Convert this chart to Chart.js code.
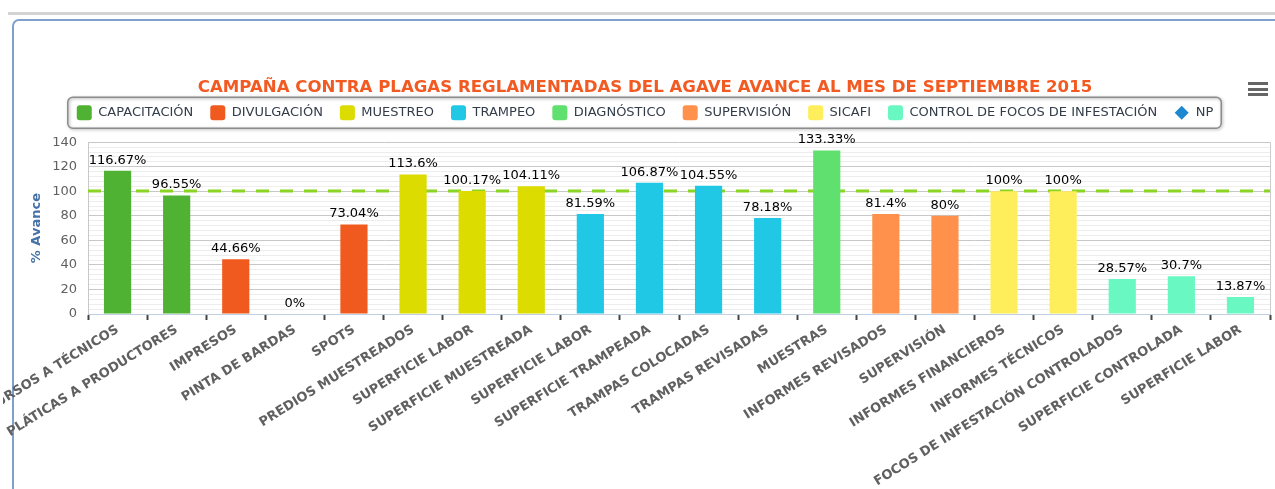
<!DOCTYPE html>
<html lang="es">
<head>
<meta charset="utf-8">
<title>Campaña contra plagas reglamentadas del agave</title>
<script src="https://cdn.jsdelivr.net/npm/chart.js@4.4.0/dist/chart.umd.min.js"></script>
<style>
  html, body { margin: 0; padding: 0; background: #fff; overflow: hidden; width: 1275px; height: 489px; }
  .topline { position: absolute; left: 8px; top: 12px; width: 1267px; height: 3px; background: #d3d3d3; }
  .panel { position: absolute; left: 12px; top: 19px; width: 1300px; height: 520px; border: 2px solid #809fca; border-radius: 7px; box-sizing: border-box; }
  .chart-wrap { position: absolute; left: 3px; top: 0; width: 1272px; height: 489px; }
  .menu { position: absolute; left: 1248px; top: 82px; width: 20px; }
  .menu span { display: block; height: 3px; background: #666; margin-bottom: 2.5px; }
</style>
</head>
<body>
<div class="topline"></div>
<div class="panel"></div>
<div class="chart-wrap"><canvas id="avance-chart"></canvas></div>
<div class="menu"><span></span><span></span><span></span></div>

<script>
// Chart data
const chartTitle = 'CAMPAÑA CONTRA PLAGAS REGLAMENTADAS DEL AGAVE AVANCE AL MES DE SEPTIEMBRE 2015';
const axisTitle = '% Avance';

const categories = [
  'CURSOS A TÉCNICOS', 'PLÁTICAS A PRODUCTORES', 'IMPRESOS', 'PINTA DE BARDAS', 'SPOTS',
  'PREDIOS MUESTREADOS', 'SUPERFICIE LABOR', 'SUPERFICIE MUESTREADA', 'SUPERFICIE LABOR',
  'SUPERFICIE TRAMPEADA', 'TRAMPAS COLOCADAS', 'TRAMPAS REVISADAS', 'MUESTRAS',
  'INFORMES REVISADOS', 'SUPERVISIÓN', 'INFORMES FINANCIEROS', 'INFORMES TÉCNICOS',
  'FOCOS DE INFESTACIÓN CONTROLADOS', 'SUPERFICIE CONTROLADA', 'SUPERFICIE LABOR'
];
const values = [
  116.67, 96.55, 44.66, 0, 73.04,
  113.6, 100.17, 104.11, 81.59,
  106.87, 104.55, 78.18, 133.33,
  81.4, 80, 100, 100,
  28.57, 30.7, 13.87
];
// which series (index into seriesNames) each category belongs to
const seriesOfCategory = [0, 0, 1, 1, 1, 2, 2, 2, 3, 3, 3, 3, 4, 5, 5, 6, 6, 7, 7, 7];
const seriesNames = [
  'CAPACITACIÓN', 'DIVULGACIÓN', 'MUESTREO', 'TRAMPEO',
  'DIAGNÓSTICO', 'SUPERVISIÓN', 'SICAFI', 'CONTROL DE FOCOS DE INFESTACIÓN'
];
const seriesColors = [
  '#4fb232', '#f05a1f', '#dcdc00', '#21c8e6',
  '#60e06e', '#ff914d', '#ffee5c', '#6af8c2'
];
const npName = 'NP';
const npColor = '#1b88cf';
const npValues = categories.map(() => null);
const goalValue = 100;
const yMin = 0;
const yMax = 140;
const yMajorStep = 20;
const yMinorStep = 4;

Chart.defaults.font.family = "'DejaVu Sans', Verdana, sans-serif";

// bar datasets, one per legend series
const datasets = seriesNames.map((name, s) => ({
  type: 'bar',
  label: name,
  data: values.map((v, i) => (seriesOfCategory[i] === s ? v : null)),
  backgroundColor: seriesColors[s],
  borderWidth: 0,
  grouped: false,
  barPercentage: 0.46,
  categoryPercentage: 1
}));
datasets.push({
  type: 'line',
  label: npName,
  data: npValues,
  borderColor: npColor,
  backgroundColor: npColor,
  showLine: false,
  pointStyle: 'rectRot'
});

// goal line at 100 and right border of the plot
const goalLine = {
  id: 'goalLine',
  beforeDatasetsDraw(chart) {
    const { ctx, chartArea: a, scales: { y } } = chart;
    const py = Math.round(y.getPixelForValue(goalValue));
    ctx.save();
    ctx.strokeStyle = '#cccccc';
    ctx.lineWidth = 1;
    ctx.beginPath();
    ctx.moveTo(a.right + 0.5, a.top);
    ctx.lineTo(a.right + 0.5, a.bottom);
    ctx.stroke();
    ctx.strokeStyle = '#8ad424';
    ctx.lineWidth = 3;
    ctx.setLineDash([13, 11]);
    ctx.beginPath();
    ctx.moveTo(a.left, py);
    ctx.lineTo(a.right, py);
    ctx.stroke();
    ctx.restore();
  }
};

// value labels above each bar
const valueLabels = {
  id: 'valueLabels',
  afterDatasetsDraw(chart) {
    const { ctx } = chart;
    ctx.save();
    ctx.font = "13px 'DejaVu Sans', Verdana, sans-serif";
    ctx.fillStyle = '#000';
    ctx.textAlign = 'center';
    ctx.textBaseline = 'bottom';
    chart.data.datasets.forEach((ds, di) => {
      if (ds.type !== 'bar') return;
      chart.getDatasetMeta(di).data.forEach((el, i) => {
        const v = ds.data[i];
        if (v === null || v === undefined) return;
        ctx.fillText(v + '%', el.x, el.y - 4);
      });
    });
    ctx.restore();
  }
};

// rounded frame around the legend, and the NP diamond
const legendFrame = {
  id: 'legendFrame',
  afterDraw(chart) {
    const lg = chart.legend;
    const boxes = lg.legendHitBoxes;
    if (!boxes || !boxes.length) return;
    const { ctx } = chart;
    const left = Math.min(...boxes.map(b => b.left)) - 9;
    const right = Math.max(...boxes.map(b => b.left + b.width)) + 8;
    const top = boxes[0].top - 8;
    const bottom = boxes[0].top + boxes[0].height + 8;
    ctx.save();
    ctx.shadowColor = 'rgba(0,0,0,0.35)';
    ctx.shadowBlur = 3;
    ctx.shadowOffsetX = 1;
    ctx.shadowOffsetY = 1;
    ctx.strokeStyle = '#8c8c8c';
    ctx.lineWidth = 1.5;
    ctx.beginPath();
    ctx.roundRect(left, top, right - left, bottom - top, 5);
    ctx.stroke();
    ctx.restore();

    const npIndex = lg.legendItems.findIndex(it => it.text === npName);
    if (npIndex >= 0) {
      const b = boxes[npIndex];
      const cx = b.left + 7.5;
      const cy = b.top + b.height / 2;
      const r = 7;
      ctx.save();
      ctx.fillStyle = npColor;
      ctx.beginPath();
      ctx.moveTo(cx, cy - r);
      ctx.lineTo(cx + r, cy);
      ctx.lineTo(cx, cy + r);
      ctx.lineTo(cx - r, cy);
      ctx.closePath();
      ctx.fill();
      ctx.restore();
    }
  }
};

const ctx = document.getElementById('avance-chart').getContext('2d');
new Chart(ctx, {
  type: 'bar',
  data: { labels: categories, datasets: datasets },
  options: {
    responsive: true,
    maintainAspectRatio: false,
    animation: false,
    layout: { padding: { top: 77, left: 17, right: 5, bottom: 0 } },
    plugins: {
      title: {
        display: true,
        text: chartTitle,
        color: '#f25a22',
        font: { size: 16.6, weight: 'bold' },
        padding: { top: 1, bottom: -9.7 }
      },
      subtitle: {
        display: true,
        text: ' ',
        weight: 500,
        font: { size: 10 },
        padding: { top: 0, bottom: 0 }
      },
      legend: {
        display: true,
        position: 'top',
        labels: {
          boxWidth: 15,
          boxHeight: 15,
          padding: 17,
          color: '#333d4a',
          font: { size: 13 },
          useBorderRadius: true,
          borderRadius: 3,
          generateLabels(chart) {
            const items = Chart.defaults.plugins.legend.labels.generateLabels(chart);
            items.forEach(it => {
              it.lineWidth = 0;
              if (it.text === npName) {
                it.fillStyle = 'rgba(0,0,0,0)';
                it.strokeStyle = 'rgba(0,0,0,0)';
              }
            });
            return items;
          }
        }
      },
      tooltip: { enabled: false }
    },
    scales: {
      x: {
        grid: {
          display: true,
          drawOnChartArea: false,
          drawTicks: true,
          tickLength: 6,
          tickWidth: 2,
          tickColor: '#444',
          offset: true
        },
        border: { display: true, color: '#c0d0e0', width: 1 },
        ticks: {
          autoSkip: false,
          minRotation: 32,
          maxRotation: 32,
          padding: 2,
          color: '#606060',
          font: { size: 13, weight: 'bold' }
        },
        afterFit(scale) {
          scale.paddingLeft = 0;
          scale.paddingRight = 0;
          scale.height = 175;
        }
      },
      y: {
        min: yMin,
        max: yMax,
        grid: {
          drawTicks: false,
          color: c => (c.tick && c.tick.value % yMajorStep === 0 ? '#c8c8c8' : '#ededed'),
          lineWidth: 1
        },
        border: { display: true, color: '#c8c8c8' },
        ticks: {
          stepSize: yMinorStep,
          autoSkip: false,
          padding: 11,
          color: '#606060',
          font: { size: 13 },
          callback: v => (v % yMajorStep === 0 ? v : '')
        },
        title: {
          display: true,
          text: axisTitle,
          color: '#4572a7',
          font: { size: 13, weight: 'bold' },
          padding: { top: 9, bottom: 7 }
        },
        afterFit(scale) {
          scale.width = 68;
        }
      }
    }
  },
  plugins: [goalLine, valueLabels, legendFrame]
});
</script>
</body>
</html>
